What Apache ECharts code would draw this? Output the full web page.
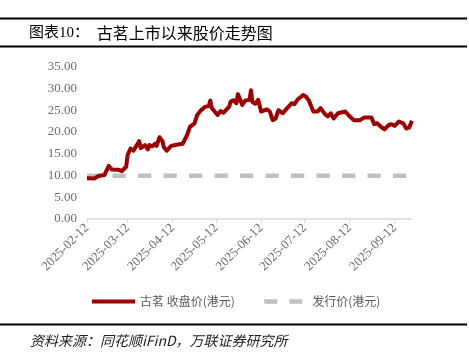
<!DOCTYPE html>
<html><head><meta charset="utf-8">
<script src="https://cdn.jsdelivr.net/npm/echarts@6/dist/echarts.min.js"></script>
<style>html,body{margin:0;padding:0;background:#fff}#c{width:469px;height:357px}</style>
</head><body><div id="c"></div>
<script>
const titleText = '图表10：';
const titleText2 = '古茗上市以来股价走势图';
const sourceText = '资料来源：同花顺iFinD，万联证券研究所';
const seriesNames = ['古茗 收盘价(港元)', '发行价(港元)'];
const dates = [
'2025-02-12','2025-02-17','2025-02-20','2025-02-24','2025-02-27','2025-03-01','2025-03-06','2025-03-08',
'2025-03-11','2025-03-12','2025-03-13','2025-03-14','2025-03-16','2025-03-17','2025-03-20','2025-03-21',
'2025-03-24','2025-03-26','2025-03-27','2025-03-29','2025-03-31','2025-04-01','2025-04-03','2025-04-05',
'2025-04-06','2025-04-08','2025-04-11','2025-04-14','2025-04-17','2025-04-19','2025-04-22','2025-04-24',
'2025-04-27','2025-04-29','2025-05-01','2025-05-04','2025-05-07','2025-05-08','2025-05-09','2025-05-13',
'2025-05-15','2025-05-17','2025-05-21','2025-05-22','2025-05-24','2025-05-26','2025-05-27','2025-05-30',
'2025-06-01','2025-06-04','2025-06-05','2025-06-06','2025-06-08','2025-06-10','2025-06-12','2025-06-16',
'2025-06-18','2025-06-20','2025-06-22','2025-06-24','2025-06-27','2025-06-30','2025-07-03','2025-07-05',
'2025-07-07','2025-07-11','2025-07-13','2025-07-15','2025-07-18','2025-07-21','2025-07-23','2025-07-26',
'2025-07-28','2025-07-30','2025-08-01','2025-08-04','2025-08-09','2025-08-12','2025-08-15','2025-08-19',
'2025-08-22','2025-08-27','2025-08-29','2025-08-31','2025-09-03','2025-09-05','2025-09-08','2025-09-10',
'2025-09-12','2025-09-15','2025-09-18','2025-09-20','2025-09-22','2025-09-24'
];
const closePrice = [
9.35,9.3,9.9,10.1,12.2,11.4,11.3,11.0,
12.0,14.7,14.3,16.2,15.7,16.0,17.9,16.3,
17.0,16.0,17.0,16.7,17.3,16.8,18.8,17.9,
16.5,15.7,16.8,17.0,17.2,17.3,19.3,21.2,
21.9,23.9,24.8,25.7,26.0,27.2,25.5,23.9,
24.8,24.4,25.8,27.0,27.3,26.6,28.7,26.2,
27.2,27.4,29.6,26.9,26.5,27.4,24.7,25.2,
24.7,22.7,23.1,25.0,24.3,25.5,26.6,26.4,
27.4,28.5,28.1,27.2,24.7,24.7,25.5,24.1,
23.6,24.3,23.1,24.3,24.7,23.6,22.7,22.7,
23.3,23.3,21.8,22.0,21.1,20.6,21.6,21.8,
21.4,22.4,22.0,20.8,21.0,22.6
];
const issueDates = ['2025-02-12','2025-09-24'];
const issuePrice = [9.94, 9.94];
const tickLabels = ['2025-02-12','2025-03-12','2025-04-12','2025-05-12','2025-06-12','2025-07-12','2025-08-12','2025-09-12'];
const yMin = 0, yMax = 35, yStep = 5;

function ts(s){const p=s.split('-');return Date.UTC(+p[0],+p[1]-1,+p[2]);}
function fmt(v){const d=new Date(v);const m=d.getUTCMonth()+1,dd=d.getUTCDate();return d.getUTCFullYear()+'-'+(m<10?'0':'')+m+'-'+(dd<10?'0':'')+dd;}

const serif = "'Liberation Serif','Noto Sans CJK SC',serif";
const cjk = "'Noto Sans CJK SC',sans-serif";
const chart = echarts.init(document.getElementById('c'), null, {renderer:'canvas'});
chart.setOption({
  animation:false,
  backgroundColor:'#fff',
  grid:{left:87,right:57,top:66.7,bottom:138,containLabel:false},
  xAxis:{
    type:'value',
    min:ts(dates[0]), max:ts(dates[dates.length-1]),
    splitLine:{show:false},
    axisLine:{show:true,lineStyle:{color:'#d9d9d9',width:1.5}},
    axisTick:{show:true,length:4,lineStyle:{color:'#d9d9d9',width:1},customValues:tickLabels.map(ts)},
    axisLabel:{customValues:tickLabels.map(ts),rotate:45,margin:7,fontFamily:serif,fontSize:13,color:'#6b6b6b',formatter:v=>fmt(v)}
  },
  yAxis:{
    type:'value',min:yMin,max:yMax,interval:yStep,
    splitLine:{show:false},axisLine:{show:false},axisTick:{show:false},
    axisLabel:{margin:10,fontFamily:serif,fontSize:13,color:'#6b6b6b',formatter:v=>v.toFixed(2)}
  },
  legend:[
    {data:[seriesNames[0]],left:90,top:295.5,padding:0,itemWidth:43,itemHeight:14,itemGap:0,
     itemStyle:{opacity:0},lineStyle:{width:4,color:'#9b0000'},
     textStyle:{fontFamily:cjk,fontSize:12,color:'#595959'}},
    {data:[seriesNames[1]],left:262,top:295.5,padding:0,itemWidth:38,itemHeight:14,itemGap:0,
     itemStyle:{opacity:0},lineStyle:{width:4.5,color:'#c0c0c0',type:[13,12]},
     textStyle:{fontFamily:cjk,fontSize:12,color:'#595959',padding:[0,0,0,5]}}
  ],
  series:[
    {name:seriesNames[0],type:'line',showSymbol:false,symbol:'none',
     data:dates.map((d,i)=>[ts(d),closePrice[i]]),
     lineStyle:{color:'#9b0000',width:4,join:'round'},itemStyle:{color:'#9b0000'},z:3},
    {name:seriesNames[1],type:'line',showSymbol:false,symbol:'none',
     data:issueDates.map((d,i)=>[ts(d),issuePrice[i]]),
     lineStyle:{color:'#c0c0c0',width:4.5,type:[13.3,12.2]},itemStyle:{color:'#c0c0c0'},z:2}
  ],
  graphic:[
    {type:'rect',shape:{x:0,y:17.5,width:467,height:2},style:{fill:'#000'}},
    {type:'rect',shape:{x:0,y:45.5,width:467,height:2},style:{fill:'#000'}},
    {type:'text',x:29,y:33,style:{text:titleText,font:"15px "+serif,fill:'#000',verticalAlign:'middle'}},
    {type:'text',x:96.7,y:33,style:{text:titleText2,font:"16px "+cjk,fill:'#000',verticalAlign:'middle'}},
    {type:'rect',shape:{x:0,y:323.5,width:467,height:2},style:{fill:'#000'}},
    {type:'text',x:30,y:341,style:{text:sourceText,font:"italic 14px "+cjk,fill:'#222',verticalAlign:'middle'}}
  ]
});
</script></body></html>
